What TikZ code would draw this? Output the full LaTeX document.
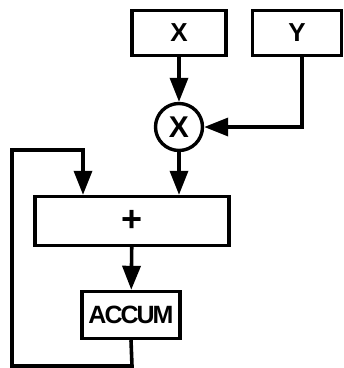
\documentclass[tikz,border=0pt]{standalone}
\usepackage{fontspec}
\setmainfont{Liberation Sans}
\usetikzlibrary{arrows.meta}
\begin{document}
\begin{tikzpicture}[x=1pt,y=-1pt,
  line width=3.4pt,
  box/.style={draw,line width=3.4pt,inner sep=0pt,font=\fontsize{26}{26}\bfseries\selectfont},
  arr/.style={-{Triangle[length=24pt,width=18pt]},line width=3.6pt}]
\useasboundingbox (0,0) rectangle (344,368);
\node[box,minimum width=94pt,minimum height=45pt] (x) at (179,33) {X};
\node[box,minimum width=89pt,minimum height=45pt] (y) at (297,33) {Y};
\node[box,circle,minimum size=47pt,font=\fontsize{30}{30}\bfseries\selectfont] (m) at (179,127) {X};
\node[box,minimum width=194pt,minimum height=49pt,font=\fontsize{36}{36}\bfseries\selectfont] (p) at (132,221) {+};
\node[box,minimum width=98pt,minimum height=47pt,font=\fontsize{25}{25}\bfseries\selectfont] (a) at (131,315) {\addfontfeature{LetterSpace=-8}ACCUM};
\coordinate (yc) at (302,127);
\coordinate (c1) at (132,366);
\coordinate (c2) at (12,366);
\coordinate (c3) at (12,150);
\coordinate (c4) at (83,150);
\draw[arr] (x) -- (m);
\draw[arr] (y.south -| yc) -- (yc) -- (m);
\draw[arr] (m) -- (m |- p.north);
\draw[arr] (p) -- (a);
\draw[arr] (a.south) -- (c1) -- (c2) -- (c3) -- (c4) -- (c4 |- p.north);
\end{tikzpicture}
\end{document}
